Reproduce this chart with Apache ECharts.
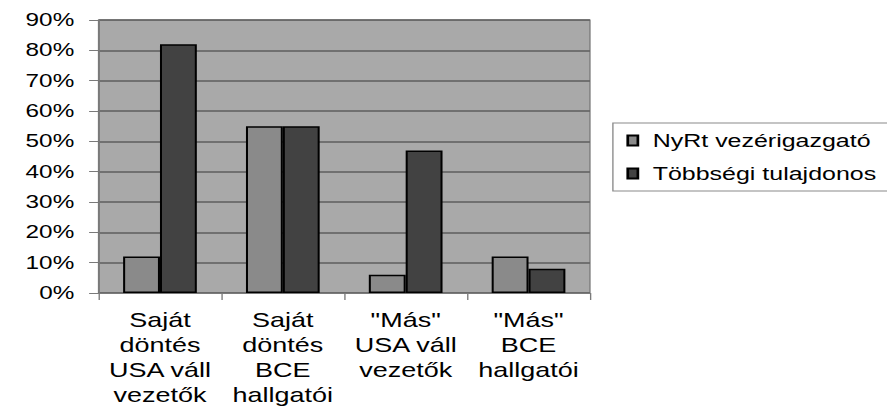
<!DOCTYPE html>
<html>
<head>
<meta charset="utf-8">
<script src="https://cdn.jsdelivr.net/npm/echarts@6/dist/echarts.min.js"></script>
<style>
  html, body { margin: 0; padding: 0; background: #fff; overflow: hidden; }
  /* the source picture is stretched sideways, so the chart is too */
  #main { width: 657px; height: 407px; transform: scaleX(1.35); transform-origin: 0 0; }
</style>
</head>
<body>
<div id="main"></div>
<script>
var categories = [
  "Saját\ndöntés\nUSA váll\nvezetők",
  "Saját\ndöntés\nBCE\nhallgatói",
  "\"Más\"\nUSA váll\nvezetők",
  "\"Más\"\nBCE\nhallgatói"
];
var seriesNames = ["NyRt vezérigazgató", "Többségi tulajdonos"];
var nyrtValues = [12, 55, 6, 12];
var tobbsegiValues = [82, 55, 47, 8];

var font = "Liberation Sans";
var chart = echarts.init(document.getElementById("main"), null, { renderer: "svg" });
var option = {
  backgroundColor: "#ffffff",
  animation: false,
  textStyle: { fontFamily: font, color: "#000" },
  grid: {
    left: 73,
    right: 220,
    top: 20,
    bottom: 114,
    outerBoundsMode: "none",
    show: true,
    backgroundColor: "#a9a9a9",
    borderColor: "#7a7a7a",
    borderWidth: 1
  },
  legend: {
    orient: "vertical",
    left: 454,
    top: 123,
    padding: [8, 60, 8, 10],
    itemGap: 14,
    itemWidth: 7.5,
    itemHeight: 10,
    icon: "rect",
    backgroundColor: "#fff",
    borderColor: "#8a8a8a",
    borderWidth: 1,
    textStyle: { fontFamily: font, fontSize: 18.5, color: "#000", padding: [0, 0, 0, 6] },
    data: seriesNames
  },
  xAxis: {
    type: "category",
    data: categories,
    axisLine: { show: true, lineStyle: { color: "#7a7a7a", width: 1 } },
    axisTick: { show: true, length: 7, lineStyle: { color: "#7a7a7a" } },
    axisLabel: {
      fontFamily: font,
      fontSize: 20,
      color: "#000",
      lineHeight: 25,
      margin: 14,
      interval: 0
    }
  },
  yAxis: {
    type: "value",
    min: 0,
    max: 90,
    interval: 10,
    axisLine: { show: true, lineStyle: { color: "#7a7a7a" } },
    axisTick: { show: true, length: 7, lineStyle: { color: "#7a7a7a" } },
    axisLabel: {
      fontFamily: font,
      fontSize: 18,
      color: "#000",
      margin: 18,
      formatter: "{value}%"
    },
    splitLine: { show: true, lineStyle: { color: "#5e5e5e", width: 1.5 } }
  },
  series: [
    {
      name: seriesNames[0],
      type: "bar",
      data: nyrtValues,
      barGap: "0%",
      barCategoryGap: "40%",
      itemStyle: { color: "#8a8a8a", borderColor: "#000", borderWidth: 1.5 }
    },
    {
      name: seriesNames[1],
      type: "bar",
      data: tobbsegiValues,
      barGap: "0%",
      barCategoryGap: "40%",
      itemStyle: { color: "#424242", borderColor: "#000", borderWidth: 1.5 }
    }
  ]
};
chart.setOption(option);
</script>
</body>
</html>
